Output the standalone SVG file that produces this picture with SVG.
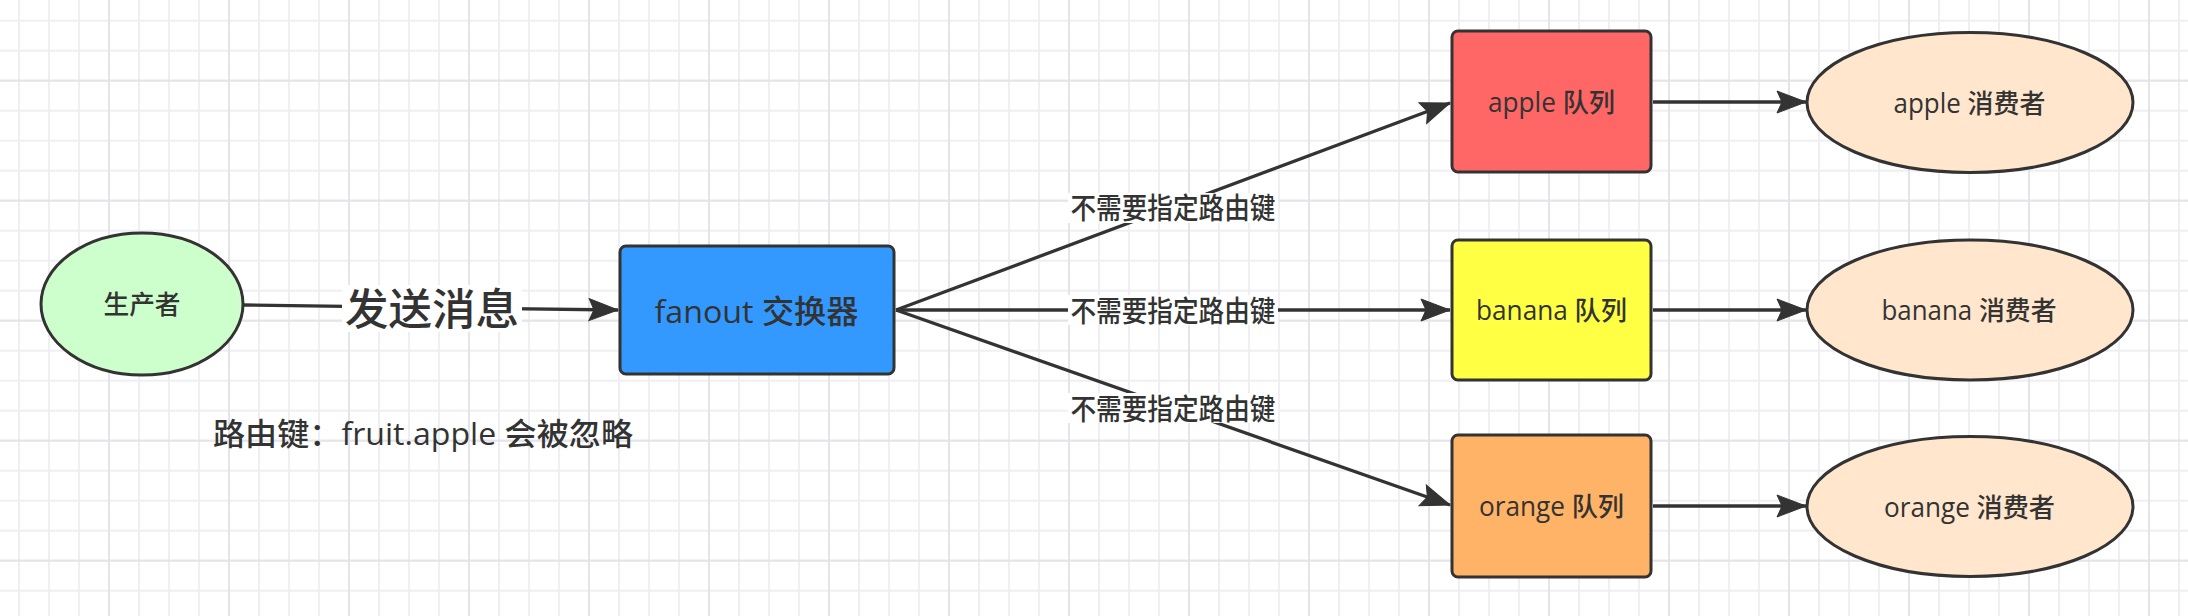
<svg xmlns="http://www.w3.org/2000/svg" width="2188" height="616" viewBox="0 0 2188 616">
  <style>
    .node { stroke: #333333; stroke-width: 3; }
    .t { font-family: "Open Sans", "Noto Sans CJK SC", sans-serif; fill: #333333; text-anchor: middle; dominant-baseline: central; font-weight: 500; }
    .edge { stroke: #333333; stroke-width: 3.3; fill: none; }
    .lblbg { fill: #ffffff; }
  </style>
  <defs>
    <pattern id="minor" patternUnits="userSpaceOnUse" x="4" y="5.7" width="30" height="30">
      <path d="M15 0 V30 M0 15 H30" stroke="#efeff3" stroke-width="2" fill="none"/>
    </pattern>
    <pattern id="major" patternUnits="userSpaceOnUse" x="49" y="20.7" width="120" height="120">
      <path d="M60 0 V120 M0 60 H120" stroke="#e4e4ea" stroke-width="2" fill="none"/>
    </pattern>
    <marker id="arrow" markerUnits="userSpaceOnUse" viewBox="-31 -12 33 24" refX="0" refY="0" markerWidth="33" markerHeight="24" orient="auto">
      <path d="M0 0 L-29 -11 L-24 0 L-29 11 Z" fill="#333333" stroke="#333333" stroke-width="1"/>
    </marker>
  </defs>

  <rect x="0" y="0" width="2188" height="616" fill="#ffffff"/>
  <rect x="0" y="0" width="2188" height="616" fill="url(#minor)"/>
  <rect x="0" y="0" width="2188" height="616" fill="url(#major)"/>

  <g id="connectors">
    <line class="edge" x1="243" y1="305" x2="618" y2="310" marker-end="url(#arrow)"/>
    <line class="edge" x1="896" y1="310" x2="1450" y2="103" marker-end="url(#arrow)"/>
    <line class="edge" x1="896" y1="310" x2="1450" y2="310" marker-end="url(#arrow)"/>
    <line class="edge" x1="896" y1="310" x2="1450" y2="505" marker-end="url(#arrow)"/>
    <line class="edge" x1="1653" y1="102" x2="1806" y2="102" marker-end="url(#arrow)"/>
    <line class="edge" x1="1653" y1="310" x2="1806" y2="310" marker-end="url(#arrow)"/>
    <line class="edge" x1="1653" y1="506" x2="1806" y2="506" marker-end="url(#arrow)"/>

    <rect class="lblbg" x="342" y="285" width="180" height="47"/>
    <text class="t" x="432" y="308" font-size="43" font-weight="bold" textLength="174" lengthAdjust="spacingAndGlyphs">发送消息</text>

    <rect class="lblbg" x="1068" y="193" width="210" height="30"/>
    <text class="t" x="1173" y="207.5" font-size="29" textLength="205" lengthAdjust="spacingAndGlyphs">不需要指定路由键</text>
    <rect class="lblbg" x="1068" y="295" width="210" height="30"/>
    <text class="t" x="1173" y="310" font-size="29" textLength="205" lengthAdjust="spacingAndGlyphs">不需要指定路由键</text>
    <rect class="lblbg" x="1068" y="393" width="210" height="30"/>
    <text class="t" x="1173" y="408" font-size="29" textLength="205" lengthAdjust="spacingAndGlyphs">不需要指定路由键</text>
  </g>

  <g id="producer">
    <ellipse class="node" cx="142" cy="304" rx="101" ry="71" fill="#ccffcc"/>
    <text class="t" x="142" y="304" font-size="26" textLength="77" lengthAdjust="spacingAndGlyphs">生产者</text>
  </g>

  <g id="exchange">
    <rect class="node" x="620" y="246" width="274" height="128" rx="6" fill="#3399ff"/>
    <text class="t" x="756.5" y="310" font-size="31.5" textLength="204" lengthAdjust="spacingAndGlyphs">fanout 交换器</text>
  </g>

  <g id="queue-apple">
    <rect class="node" x="1452" y="31" width="199" height="141" rx="6" fill="#ff6666"/>
    <text class="t" x="1551.5" y="102" font-size="26.5" textLength="127" lengthAdjust="spacingAndGlyphs">apple 队列</text>
  </g>
  <g id="queue-banana">
    <rect class="node" x="1452" y="240" width="199" height="140" rx="6" fill="#ffff44"/>
    <text class="t" x="1551.5" y="310" font-size="26.5" textLength="151" lengthAdjust="spacingAndGlyphs">banana 队列</text>
  </g>
  <g id="queue-orange">
    <rect class="node" x="1452" y="435" width="199" height="142" rx="6" fill="#ffb366"/>
    <text class="t" x="1551.5" y="506" font-size="26.5" textLength="145" lengthAdjust="spacingAndGlyphs">orange 队列</text>
  </g>

  <g id="consumer-apple">
    <ellipse class="node" cx="1970" cy="102.5" rx="163" ry="70" fill="#ffe6cc"/>
    <text class="t" x="1969.5" y="102.5" font-size="26.5" textLength="152" lengthAdjust="spacingAndGlyphs">apple 消费者</text>
  </g>
  <g id="consumer-banana">
    <ellipse class="node" cx="1970" cy="310" rx="163" ry="70" fill="#ffe6cc"/>
    <text class="t" x="1969" y="310" font-size="26.5" textLength="175" lengthAdjust="spacingAndGlyphs">banana 消费者</text>
  </g>
  <g id="consumer-orange">
    <ellipse class="node" cx="1970" cy="506.5" rx="163" ry="70" fill="#ffe6cc"/>
    <text class="t" x="1969.5" y="506.5" font-size="26.5" textLength="171" lengthAdjust="spacingAndGlyphs">orange 消费者</text>
  </g>

  <g id="note">
    <text class="t" x="423" y="432.5" font-size="31" textLength="420" lengthAdjust="spacingAndGlyphs">路由键：fruit.apple 会被忽略</text>
  </g>
</svg>
